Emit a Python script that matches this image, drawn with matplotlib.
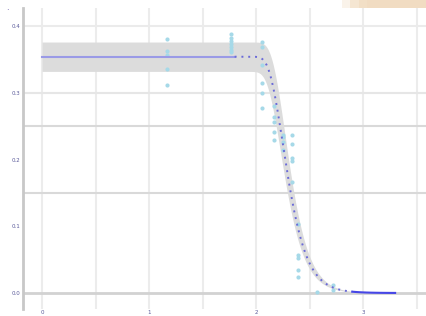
import numpy as np
import matplotlib
matplotlib.use('Agg')
import matplotlib.pyplot as plt
from matplotlib.patches import Rectangle

# observed responses (x = log dose, y = response)
dose_x = [1.17, 1.17, 1.17, 1.17, 1.17,
          1.77, 1.77, 1.77, 1.77, 1.77, 1.77, 1.77,
          2.06, 2.06, 2.06, 2.06, 2.06, 2.06,
          2.17, 2.17, 2.17, 2.17, 2.17,
          2.25, 2.25, 2.25, 2.25,
          2.34, 2.34, 2.34, 2.34, 2.34,
          2.39, 2.39, 2.39, 2.39, 2.39,
          2.57, 2.72, 2.72]
resp_y = [0.381, 0.363, 0.357, 0.336, 0.312,
          0.388, 0.382, 0.378, 0.373, 0.369, 0.364, 0.361,
          0.376, 0.369, 0.342, 0.315, 0.300, 0.277,
          0.280, 0.264, 0.256, 0.241, 0.229,
          0.237, 0.234, 0.226, 0.214,
          0.236, 0.223, 0.202, 0.198, 0.167,
          0.103, 0.057, 0.052, 0.034, 0.024,
          0.002, 0.012, 0.004]

# fitted curve parameters
top = 0.354
band = 0.022
k = 8.0
x0 = 2.25
fit_start, dotted_start, dotted_end, fit_end = 0.0, 1.80, 2.90, 3.30

x_ticks = [0, 1, 2, 3]
x_labels = ['0', '1', '2', '3']
y_ticks = [0.0, 0.1, 0.2, 0.3, 0.4]
y_labels = ['0.0', '0.1', '0.2', '0.3', '0.4']


def model(x, t, shift=0.0):
    u = np.exp(-k * (x - x0 - shift))
    return t * (1 - np.exp(-u))


fig = plt.figure(figsize=(4.27, 3.16), dpi=100)
ax = fig.add_axes([23 / 427, 7 / 316, 404 / 427, 301 / 316])
ax.set_xlim(-0.178, 3.598)
ax.set_ylim(-0.024, 0.427)

# grid
for gx in np.arange(0, 3.6, 0.5):
    ax.axvline(gx, color='#ececec', lw=1.5, zorder=0)
for gy, c in [(0.4, '#ebebeb'), (0.3, '#e6e6e6'), (0.25, '#d9d9d9'), (0.15, '#d9d9d9')]:
    ax.axhline(gy, color=c, lw=1.5, zorder=0)
ax.axhline(0.0, color='#d2d2d2', lw=2, zorder=0)

# confidence band
xs = np.linspace(fit_start, dotted_end, 400)
ax.fill_between(xs, model(xs, top - band, -0.02), model(xs, top + band, 0.02),
                color='#dcdcdc', lw=0, zorder=1)

# fitted line
xa = np.linspace(fit_start, dotted_start, 100)
ax.plot(xa, model(xa, top), color='#9a9ae6', lw=1.5, zorder=3)
xb = np.linspace(dotted_start, dotted_end, 200)
ax.plot(xb, model(xb, top), color='#6a6ad8', lw=1.4, ls=(0, (1, 2.5)), zorder=3)
xc = np.linspace(dotted_end, fit_end, 50)
ax.plot(xc, model(xc, top), color='#4646e6', lw=1.5, zorder=3)

# data points
ax.plot(dose_x, resp_y, 'o', ms=3, color='#a6d9e8', mec='none', zorder=2)

ax.set_xticks(x_ticks)
ax.set_xticklabels(x_labels)
ax.set_yticks(y_ticks)
ax.set_yticklabels(y_labels)
ax.tick_params(length=0, labelsize=4, labelcolor='#5a5a9a', pad=2)
ax.tick_params(axis='x', pad=0.5)
for s in ['top', 'right', 'bottom']:
    ax.spines[s].set_visible(False)
ax.spines['left'].set_color('#c8c8c8')
ax.spines['left'].set_linewidth(2)

# top-right header strip
for i, c in enumerate(['#faf3ea', '#f5e6d2', '#f2dfc6', '#f1dcc2']):
    fig.add_artist(Rectangle((0.80 + i * 0.02, 0.975), 0.2, 0.03, transform=fig.transFigure,
                             color=c, lw=0))
fig.text(7 / 427, 1 - 8 / 316, '.', color='#5a4aa0', fontsize=6, ha='center', va='center')

fig.savefig('out.png', dpi=100)
